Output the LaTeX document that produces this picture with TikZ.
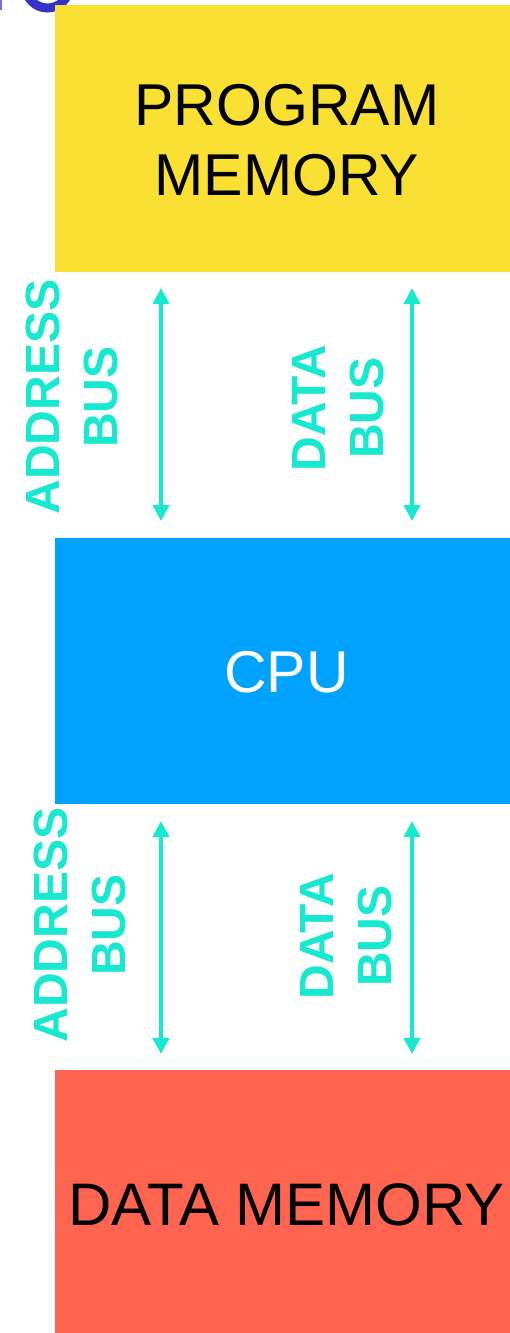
\documentclass[tikz,border=0pt]{standalone}
\usepackage{fontspec}
\setmainfont{Liberation Sans}
\usetikzlibrary{arrows.meta}

\definecolor{progyellow}{RGB}{249,224,50}
\definecolor{cpublue}{RGB}{0,162,255}
\definecolor{datared}{RGB}{255,100,80}
\definecolor{buscyan}{RGB}{23,232,208}
\definecolor{titleblue}{RGB}{51,51,204}

\tikzset{
  x=1pt, y=-1pt,
  block/.style={draw=none, minimum width=455pt, inner sep=0pt, outer sep=0pt},
  blocktext/.style={font=\fontsize{59}{70}\selectfont, align=center, inner sep=0pt},
  buslabel/.style={font=\fontsize{48}{58}\selectfont\bfseries, text=buscyan,
    rotate=90, align=center, inner sep=0pt},
  bus/.style={draw=buscyan, line width=4pt,
    {Triangle[length=16pt,width=16pt]}-{Triangle[length=16pt,width=16pt]}},
}

\begin{document}
\begin{tikzpicture}
\useasboundingbox (0,0) rectangle (510,1333);
\begin{scope}
\clip (0,0) rectangle (510,1333);

% fragment of the heading above the frame
\draw[titleblue, line width=9pt] (47.5,-14) circle[radius=22];
\fill[titleblue!70] (0,0) rectangle (2,10);

% memory and processor blocks
\node[block, fill=progyellow, minimum height=267pt] (prog) at (282.5,138.5) {};
\node[block, fill=cpublue, minimum height=266pt] (cpu) at (282.5,671) {};
\node[block, fill=datared, minimum height=263pt] (data) at (282.5,1201.5) {};

\node[blocktext] (progtxt) at ([xshift=4.5pt,yshift=-1.5pt]prog.center) {PROGRAM\\MEMORY};
\node[blocktext, text=white] (cputxt) at ([xshift=4pt,yshift=-1pt]cpu.center) {CPU};
\node[blocktext, font=\fontsize{60}{70}\selectfont] (datatxt) at ([xshift=4pt,yshift=-3.5pt]data.center) {DATA MEMORY};

% bus end points
\coordinate (pa1) at (161,288);
\coordinate (pa2) at (161,521);
\coordinate (pd1) at (412,288);
\coordinate (pd2) at (412,521);
\coordinate (da1) at (161,821);
\coordinate (da2) at (161,1054);
\coordinate (dd1) at (412,821);
\coordinate (dd2) at (412,1054);

\draw[bus] (pa1) -- (pa2);
\draw[bus] (pd1) -- (pd2);
\draw[bus] (da1) -- (da2);
\draw[bus] (dd1) -- (dd2);

% bus labels
\node[buslabel] (paddr) at (71.5,397) {ADDRESS\\BUS};
\node[buslabel] (pdata) at (338.5,408) {DATA\\BUS};
\node[buslabel] (daddr) at (79.5,925) {ADDRESS\\BUS};
\node[buslabel] (ddata) at (346.5,936) {DATA\\BUS};
\end{scope}
\end{tikzpicture}
\end{document}
